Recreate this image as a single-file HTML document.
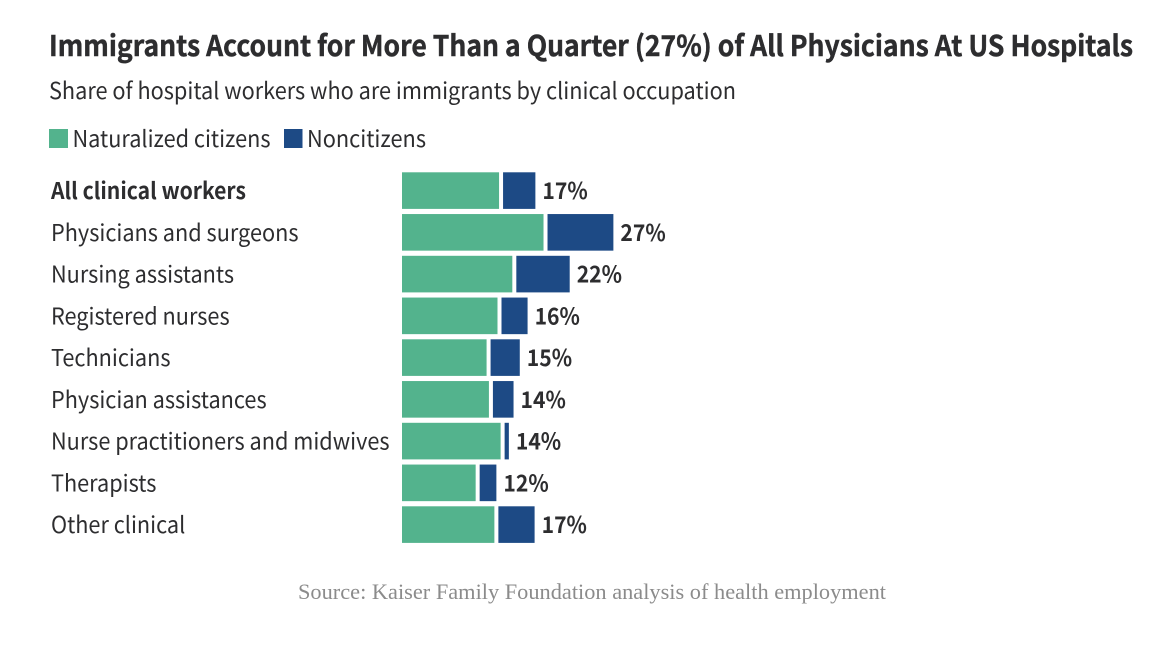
<!DOCTYPE html>
<html lang="en">
<head>
<meta charset="utf-8">
<title>Immigrants Account for More Than a Quarter of All Physicians</title>
<style>
html,body{margin:0;padding:0;background:#fff;width:1174px;height:646px;overflow:hidden}
svg{display:block;filter:blur(0.35px)}
text{font-family:"Noto Sans CJK JP","Liberation Sans",sans-serif;fill:#2d2d2f}
.serif{font-family:"Liberation Serif","Noto Serif CJK SC",serif;fill:#8b8b8b}
</style>
</head>
<body>
<svg id="chart" width="1174" height="646" viewBox="0 0 1174 646" xmlns="http://www.w3.org/2000/svg">
  <text x="49" y="56" font-size="28.5" font-weight="700" stroke="#2d2d2f" stroke-width="0.45" textLength="1084" lengthAdjust="spacingAndGlyphs">Immigrants Account for More Than a Quarter (27%) of All Physicians At US Hospitals</text>
  <text x="49" y="99" font-size="23" textLength="687" lengthAdjust="spacingAndGlyphs">Share of hospital workers who are immigrants by clinical occupation</text>
  <rect x="49" y="129" width="19" height="19" fill="#53b38d"/>
  <text x="72.5" y="147" font-size="23" textLength="198" lengthAdjust="spacingAndGlyphs">Naturalized citizens</text>
  <rect x="284" y="129" width="18.5" height="19" fill="#1d4a85"/>
  <text x="307" y="147" font-size="23" textLength="119" lengthAdjust="spacingAndGlyphs">Noncitizens</text>
  <g id="rows"></g>
  <text class="serif" x="298" y="599" font-size="22" textLength="588" lengthAdjust="spacingAndGlyphs">Source: Kaiser Family Foundation analysis of health employment</text>
</svg>
<script>
const categories = ["All clinical workers","Physicians and surgeons","Nursing assistants","Registered nurses","Technicians","Physician assistances","Nurse practitioners and midwives","Therapists","Other clinical"];
const naturalized = [12.7,18.4,14.4,12.5,11.1,11.4,12.9,9.7,12.1];
const noncitizens = [4.4,8.7,7.1,3.6,4.0,2.9,0.8,2.4,4.9];
const totalLabels = ["17%","27%","22%","16%","15%","14%","14%","12%","17%"];

const NS = "http://www.w3.org/2000/svg";
const rows = document.getElementById("rows");
const xScale = v => 402 + v * 7.8;
const yScale = i => 172.3 + i * 41.75;
const barHeight = 36.6;
const halfGap = 2;
const regularFit = 0.943;
const boldFit = 0.918;

function make(tag, attrs, text) {
  const el = document.createElementNS(NS, tag);
  for (const k in attrs) el.setAttribute(k, attrs[k]);
  if (text !== undefined) el.textContent = text;
  rows.appendChild(el);
  return el;
}

function fit(el, factor) {
  el.setAttribute("textLength", (el.getComputedTextLength() * factor).toFixed(1));
  el.setAttribute("lengthAdjust", "spacingAndGlyphs");
}

categories.forEach((cat, i) => {
  const y = yScale(i);
  const mid = y + barHeight / 2;
  const split = xScale(naturalized[i]);
  const end = xScale(naturalized[i] + noncitizens[i]);
  const isTotal = i === 0;

  const label = make("text", {x: 51, y: mid + 8.6, "font-size": 23, "font-weight": isTotal ? 700 : 400}, cat);
  
  
  fit(label, isTotal ? boldFit : regularFit);

  const green = make("rect", {x: xScale(0), y: y, width: split - halfGap - xScale(0), height: barHeight, fill: "#53b38d"});
  
  

  const blue = make("rect", {x: split + halfGap, y: y, width: Math.max(0, end - split - halfGap), height: barHeight, fill: "#1d4a85"});
  
  

  const value = make("text", {x: end + 7, y: mid + 8.6, "font-size": 23, "font-weight": 700}, totalLabels[i]);
  
  
  fit(value, boldFit);
});
</script>
</body>
</html>
